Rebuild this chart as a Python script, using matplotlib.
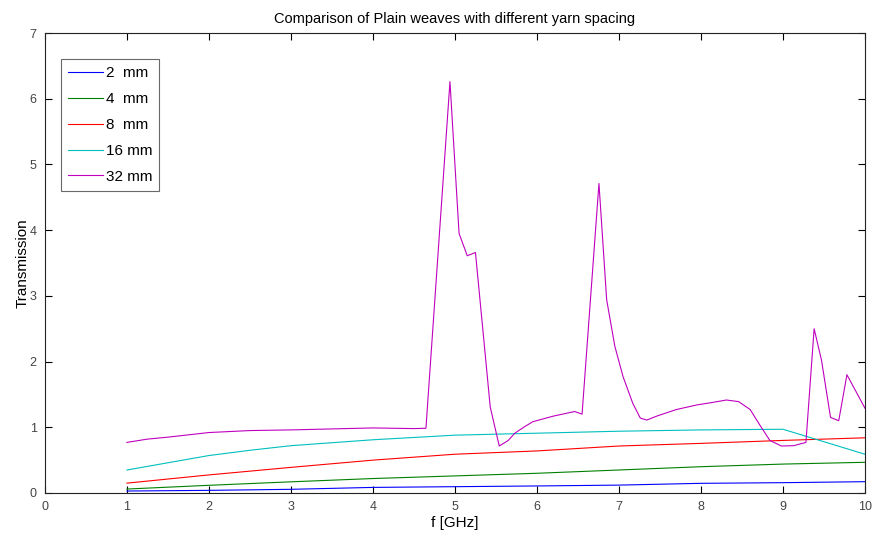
import matplotlib
matplotlib.use('Agg')
import matplotlib.pyplot as plt

# 頻率取樣點 (GHz)
f_smooth = [1, 2, 3, 4, 5, 6, 7, 8, 9, 10]
t_2mm = [0.03, 0.04, 0.056, 0.085, 0.096, 0.107, 0.12, 0.147, 0.157, 0.172]
t_4mm = [0.06, 0.117, 0.17, 0.22, 0.26, 0.30, 0.35, 0.40, 0.44, 0.467]
t_8mm = [0.15, 0.275, 0.39, 0.50, 0.59, 0.64, 0.715, 0.755, 0.80, 0.84]

f_16mm = [1, 1.5, 2, 2.5, 3, 4, 5, 6, 7, 8, 9, 9.5, 10]
t_16mm = [0.35, 0.46, 0.57, 0.65, 0.72, 0.81, 0.88, 0.91, 0.94, 0.96, 0.97, 0.78, 0.59]

f_32mm = [1, 1.25, 1.5, 2, 2.5, 3, 4, 4.5, 4.646, 4.939, 5.05, 5.15, 5.25, 5.43, 5.54,
          5.65, 5.73, 5.85, 5.95, 6.2, 6.46, 6.55, 6.756, 6.85, 6.95, 7.05, 7.17, 7.26,
          7.34, 7.46, 7.70, 7.95, 8.15, 8.31, 8.46, 8.60, 8.72, 8.84, 8.98, 9.13, 9.28,
          9.38, 9.47, 9.58, 9.68, 9.78, 10]
t_32mm = [0.77, 0.82, 0.85, 0.92, 0.95, 0.96, 0.99, 0.98, 0.985, 6.26, 3.95, 3.61, 3.66,
          1.31, 0.715, 0.80, 0.91, 1.01, 1.085, 1.17, 1.24, 1.20, 4.71, 2.94, 2.23, 1.77,
          1.36, 1.14, 1.11, 1.17, 1.27, 1.34, 1.38, 1.415, 1.39, 1.27, 1.03, 0.80, 0.715,
          0.72, 0.77, 2.50, 2.02, 1.15, 1.10, 1.80, 1.29]

labels = ['2  mm', '4  mm', '8  mm', '16 mm', '32 mm']
colors = [(0, 0, 1), (0, 0.5, 0), (1, 0, 0), (0, 0.75, 0.75), (0.75, 0, 0.75)]

plt.rcParams['font.family'] = ['Liberation Sans', 'DejaVu Sans']

fig = plt.figure(figsize=(8.73, 5.43), dpi=100)
ax = fig.add_axes([0.0515, 0.0921, 0.9393, 0.8471])

series = [(f_smooth, t_2mm), (f_smooth, t_4mm), (f_smooth, t_8mm),
          (f_16mm, t_16mm), (f_32mm, t_32mm)]
for (x, y), lab, c in zip(series, labels, colors):
    ax.plot(x, y, color=c, linewidth=0.8, label=lab)

ax.set_xlim(0, 10)
ax.set_ylim(0, 7)
ax.set_xticks(range(0, 11))
ax.set_yticks(range(0, 8))
ax.tick_params(direction='in', length=5, width=0.8, top=True, right=True,
               labelsize=9, labelcolor='#444444', pad=6)
for sp in ax.spines.values():
    sp.set_linewidth(0.8)
    sp.set_color('#222222')

ax.set_title('Comparison of Plain weaves with different yarn spacing', fontsize=10.5, pad=7)
ax.set_xlabel('f [GHz]', fontsize=11, labelpad=2)
ax.set_ylabel('Transmission', fontsize=11, labelpad=0)

leg = ax.legend(loc='upper left', bbox_to_anchor=(0.02, 0.943), fontsize=11,
                frameon=True, fancybox=False, handlelength=2.3, handletextpad=0.15,
                borderpad=0.45, labelspacing=0.78, borderaxespad=0)
leg.get_frame().set_edgecolor('#444444')
leg.get_frame().set_linewidth(0.8)

fig.savefig('out.png', dpi=100)
